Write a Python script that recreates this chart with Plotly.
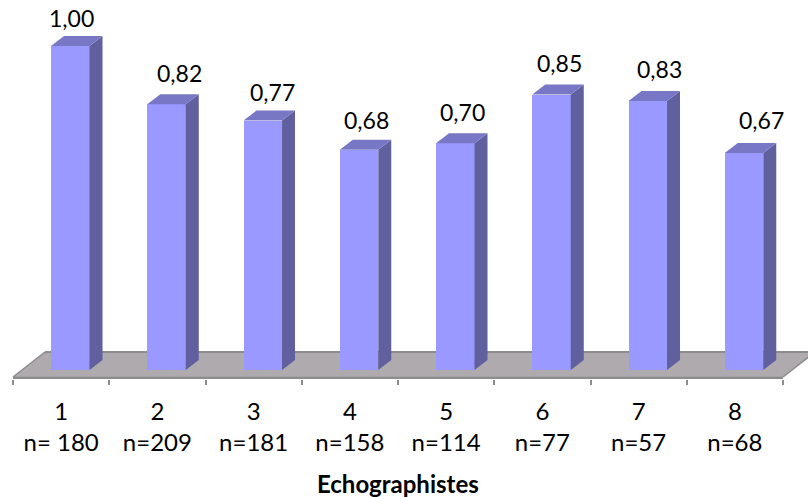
import plotly.graph_objects as go

categories = [1, 2, 3, 4, 5, 6, 7, 8]
counts = ["n= 180", "n=209", "n=181", "n=158", "n=114", "n=77", "n=57", "n=68"]
values = [1.00, 0.82, 0.77, 0.68, 0.70, 0.85, 0.83, 0.67]
value_labels = ["1,00", "0,82", "0,77", "0,68", "0,70", "0,85", "0,83", "0,67"]
x_title = "Echographistes"
label_dx = [1, 13, 10, 7, 7, 8, 12, 17]
label_dy = [18, 21, 19, 20, 21, 22, 22, 23]

FONT = "Lato"
W, H = 808, 497
PX_X = 96.25              # pixels per category
PX_Y = 324.0              # pixels per value unit
BOTTOM_PX = 379
ZERO_PX = 370
BAR_W = 0.4
BAR_OFFSET = -0.105       # front face left edge, relative to category centre
DX = 13 / PX_X            # depth of a bar
DY = 10 / PX_Y
FRONT_Y = -7 / PX_Y       # floor front edge
BACK_Y = 18 / PX_Y        # floor back edge
FLOOR_DX = 32 / PX_X

xr = [0.5 - 13 / PX_X, 0.5 + (W - 13) / PX_X]
yr = [(ZERO_PX - BOTTOM_PX) / PX_Y, ZERO_PX / PX_Y]

fig = go.Figure()

fig.add_trace(go.Bar(
    x=categories, y=values, width=BAR_W, offset=BAR_OFFSET,
    marker=dict(color="#9999ff", line=dict(width=0)), hoverinfo="skip", showlegend=False,
))

for c, v in zip(categories, values):
    xl = c + BAR_OFFSET
    xrt = xl + BAR_W
    fig.add_trace(go.Scatter(
        x=[xrt, xrt + DX, xrt + DX, xrt, xrt], y=[0, DY, v + DY, v, 0],
        mode="lines", fill="toself", fillcolor="#60609f", line=dict(width=0),
        hoverinfo="skip", showlegend=False,
    ))
    fig.add_trace(go.Scatter(
        x=[xl, xrt, xrt + DX, xl + DX, xl], y=[v, v, v + DY, v + DY, v],
        mode="lines", fill="toself", fillcolor="#7777c6", line=dict(width=0),
        hoverinfo="skip", showlegend=False,
    ))

x0, x1 = 0.5, 8.5
floor_path = (f"M {x0} {FRONT_Y} L {x0 + FLOOR_DX} {BACK_Y} L {x1 + FLOOR_DX} {BACK_Y} "
              f"L {x1} {FRONT_Y} Z")
shapes = [
    dict(type="path", path=floor_path, xref="x", yref="y", layer="below",
         fillcolor="#aeaaae", line=dict(width=0)),
    dict(type="line", x0=x0, x1=x0 + FLOOR_DX, y0=FRONT_Y, y1=BACK_Y, xref="x", yref="y",
         layer="below", line=dict(color="#8c8c8c", width=1.5)),
    dict(type="line", x0=x0 + FLOOR_DX, x1=x1 + FLOOR_DX, y0=BACK_Y, y1=BACK_Y, xref="x", yref="y",
         layer="below", line=dict(color="#8c8c8c", width=2)),
    dict(type="line", x0=x1, x1=x1 + FLOOR_DX, y0=FRONT_Y, y1=BACK_Y, xref="x", yref="y",
         layer="below", line=dict(color="#8c8c8c", width=1.5)),
    dict(type="line", x0=x0, x1=x1, y0=FRONT_Y - 1 / PX_Y, y1=FRONT_Y - 1 / PX_Y, xref="x", yref="y",
         layer="below", line=dict(color="#8c8c8c", width=2.5)),
]

annotations = [
    dict(x=c + BAR_OFFSET + BAR_W / 2, y=v + DY, xref="x", yref="y", text=t, showarrow=False,
         xshift=dx, yshift=dy, font=dict(family=FONT, size=23, color="#000000"))
    for c, v, t, dx, dy in zip(categories, values, value_labels, label_dx, label_dy)
]
annotations.append(dict(
    x=(x0 + x1) / 2, y=0, xref="x", yref="paper", yanchor="middle", showarrow=False,
    yshift=-(483 - BOTTOM_PX), text=f"<b>{x_title}</b>",
    font=dict(family=FONT, size=24, color="#000000"),
))

fig.update_layout(
    width=W, height=H, margin=dict(l=0, r=0, t=0, b=H - BOTTOM_PX),
    plot_bgcolor="#ffffff", paper_bgcolor="#ffffff", showlegend=False,
    shapes=shapes, annotations=annotations, bargap=0,
    font=dict(family=FONT, color="#000000"),
)
fig.update_xaxes(
    range=xr, tickmode="array", tickvals=categories,
    ticktext=[f"{c}<br>{n}" for c, n in zip(categories, counts)],
    ticks="", showline=False, showgrid=False, zeroline=False,
    tickfont=dict(family=FONT, size=24, color="#000000"),
    ticklabelstandoff=16,
    minor=dict(tickmode="array", tickvals=[0.5 + i for i in range(9)], ticks="outside",
               ticklen=5, tickwidth=2, tickcolor="#8c8c8c", showgrid=False),
)
fig.update_yaxes(range=yr, visible=False, showgrid=False, zeroline=False)

fig.write_html("out.html", config=dict(displayModeBar=False),
               post_script="document.body.style.margin='0';document.body.style.overflow='hidden';")
